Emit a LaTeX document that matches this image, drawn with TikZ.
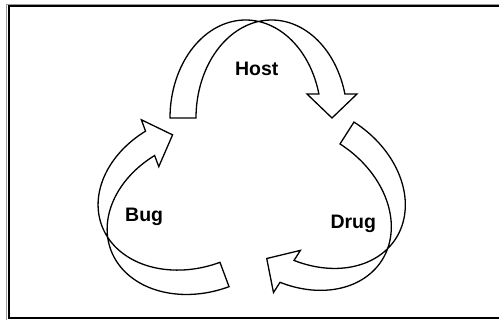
\documentclass[tikz,border=0pt]{standalone}
\usepackage{fontspec}
\setmainfont{Liberation Sans}
\begin{document}
\begin{tikzpicture}[x=1pt,y=-1pt]
\tikzset{
  cyclearrow/.style={draw=black, fill=white, line width=1.3pt, line join=miter},
  lbl/.style={font=\bfseries\fontsize{19.5}{20}\selectfont, anchor=base, inner sep=0pt},
  framegray/.style={draw=black!40, line width=1pt},
  frameblack/.style={draw=black, line width=2pt},
  % curved block arrow: base centred at the origin, head pointing down at (149,0)
  curvedarrow/.pic={
    \draw[cyclearrow]
      plot[domain=180:345.8, samples=70] ({62.6+75.6*cos(\x)},{98*sin(\x)})
      -- (124,-24) -- (149,0) -- (174,-24)
      -- plot[domain=345.8:180, samples=70] ({88.6+75.6*cos(\x)},{98*sin(\x)})
      -- cycle;
  }
}
\useasboundingbox (0,0) rectangle (499,320);
% double frame
\draw[framegray] (6.3,320) -- (6.3,4.3) -- (499,4.3);
\draw[frameblack] (499,318.5) -- (9,318.5) -- (9,6.5) -- (499,6.5);
% the three arrows of the cycle
\pic (hostarrow) at (183,118) {curvedarrow};
\pic[rotate=-122.6] (drugarrow) at (347,133) {curvedarrow};
\pic[rotate=110.4] (bugarrow) at (224.5,274.5) {curvedarrow};
% labels
\node[lbl] (host) at (256.7,76) {Host};
\node[lbl] (bug) at (144.2,221.7) {Bug};
\node[lbl] (drug) at (353.3,229) {Drug};
\end{tikzpicture}
\end{document}
